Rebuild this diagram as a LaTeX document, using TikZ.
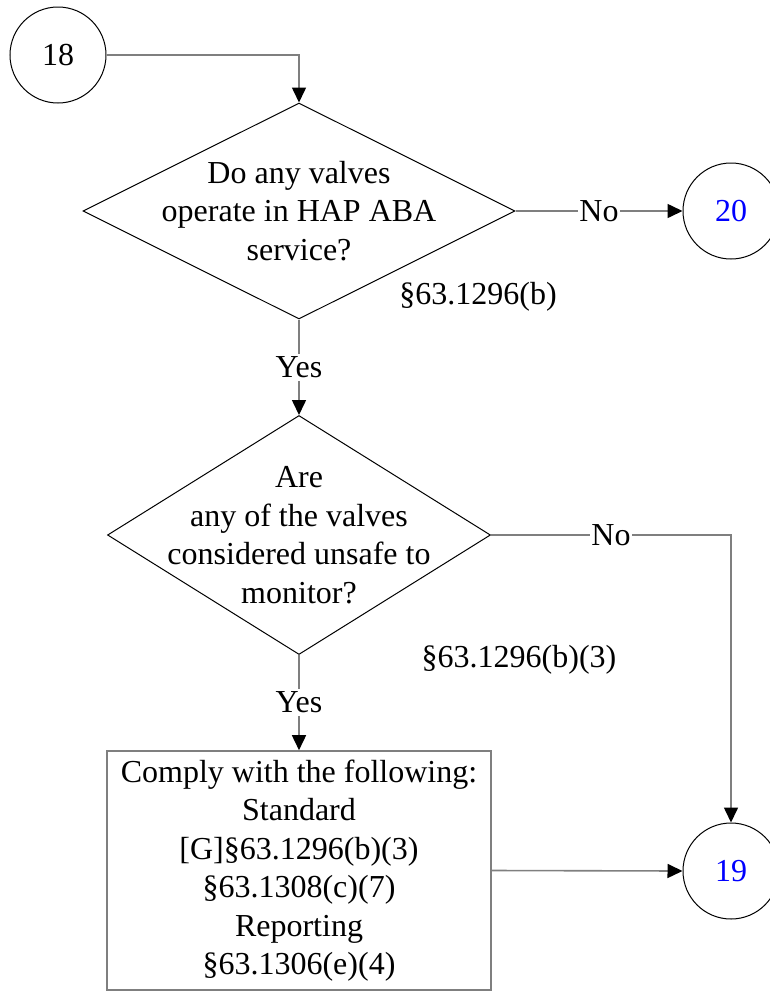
\documentclass[tikz,border=0pt]{standalone}
\usepackage{fontspec}
\setmainfont{Liberation Serif}
\usepackage{xcolor}
\usepackage{tikz}
\usetikzlibrary{arrows.meta}
\usetikzlibrary{shapes.geometric}
\definecolor{linegray}{RGB}{127,127,127}
\tikzset{
    tnode/.style = {align=center, inner sep=0pt, text centered, font=\fontsize{32}{38.5}\selectfont},
    conn_node/.style = {tnode, circle, draw=black, line width=1pt, minimum size=96pt},
    goto_node/.style = {conn_node, text=blue},
    dec_node/.style = {tnode, diamond, draw=black, line width=1pt},
    act_node/.style = {tnode, rectangle, draw=linegray, line width=1.6pt, minimum width=384pt, minimum height=239pt},
    lbl/.style = {tnode, fill=white, inner xsep=1pt, inner ysep=3pt},
    ref/.style = {tnode}
}

\begin{document}
\begin{tikzpicture}
            [x=1pt, y=-1pt,
            flow/.style={draw=linegray, line width=1.6pt, -{Triangle[length=15pt, width=14pt, color=black]}},
            plain/.style={draw=linegray, line width=1.6pt}]

            \useasboundingbox (0,0) rectangle (770,991);

            \node [conn_node] (c18) at (58,55) {18};
            \node [dec_node, minimum width=432pt, minimum height=216pt] (d1) at (299,211) {};
            \node [tnode] (d1_text) at (d1.center) {Do any valves\\operate in HAP ABA\\service?};
            \node [goto_node] (c20) at (731,211) {20};
            \node [ref] (r1) at (478,297) {§63.1296(b)};

            \node [dec_node, minimum width=383pt, minimum height=239pt] (d2) at (299,535) {};
            \node [tnode] (d2_text) at (d2.center) {Are\\any of the valves\\considered unsafe to\\monitor?};
            \node [ref] (r2) at (519,660) {§63.1296(b)(3)};

            \node [act_node] (comply) at (299,870.5) {Comply with the following:\\Standard\\{[G]}§63.1296(b)(3)\\§63.1308(c)(7)\\Reporting\\§63.1306(e)(4)};
            \node [goto_node] (c19) at (731,871) {19};

            \draw [flow] (c18.east) -| (d1.north);
            \draw [flow] (d1.east) -- node [lbl] {No} (c20.west);
            \draw [flow] (d1.south) -- node [lbl] {Yes} (d2.north);
            \draw [flow] (d2.east) -| node [lbl, pos=0.25] {No} (c19.north);
            \draw [flow] (d2.south) -- node [lbl] {Yes} (comply.north);
            \draw [flow] (comply.east) -- (c19.west);
        \end{tikzpicture}
\end{document}
